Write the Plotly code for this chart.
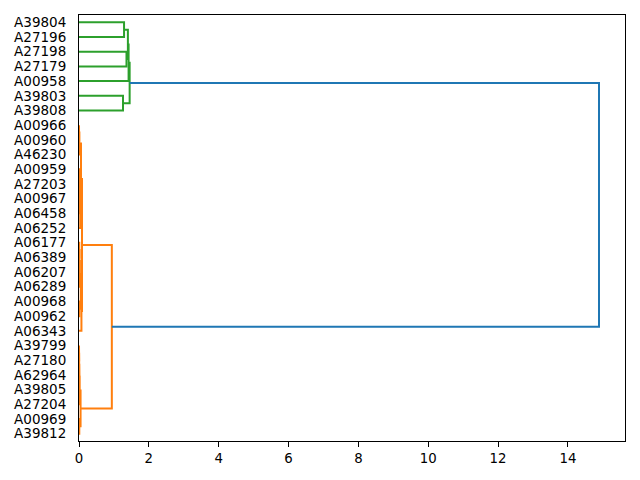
import plotly.graph_objects as go

# Leaf labels, top to bottom as displayed
leaf_labels = ["A39804", "A27196", "A27198", "A27179", "A00958", "A39803", "A39808",
               "A00966", "A00960", "A46230", "A00959", "A27203", "A00967", "A06458",
               "A06252", "A06177", "A06389", "A06207", "A06289", "A00968", "A00962",
               "A06343", "A39799", "A27180", "A62964", "A39805", "A27204", "A00969",
               "A39812"]

# Linkage: (merge name, upper child, lower child, merge distance)
merge_names = ["g1", "g2", "g3", "g4", "g5", "g6",
               "o1", "o2", "o3", "o4", "o5", "o6", "o7", "o8", "o9", "o10", "o11",
               "o12", "o13", "o14", "o15", "o16", "o17", "o18", "o19", "o20", "o21",
               "root"]
merge_left = ["A39804", "A27198", "g1", "g3", "A39803", "g4",
              "A00966", "o1", "A00959", "o3", "o4", "o5", "o2", "A06177", "o8", "o9",
              "A00968", "o10", "o12", "o7", "A39799", "o15", "o16", "o17", "A00969",
              "o18", "o14", "g6"]
merge_right = ["A27196", "A27179", "g2", "A00958", "A39808", "g5",
               "A00960", "A46230", "A27203", "A00967", "A06458", "A06252", "o6",
               "A06389", "A06207", "A06289", "A00962", "o11", "A06343", "o13",
               "A27180", "A62964", "A39805", "A27204", "A39812", "o19", "o20", "o21"]
merge_dist = [1.29, 1.36, 1.40, 1.42, 1.26, 1.45,
              0.002, 0.010, 0.006, 0.015, 0.025, 0.035, 0.057, 0.008, 0.015, 0.022,
              0.012, 0.050, 0.070, 0.086, 0.003, 0.006, 0.010, 0.015, 0.008, 0.045,
              0.94, 14.89]

palette = ["#ff7f0e", "#2ca02c", "#d62728", "#9467bd"]
above_color = "#1f77b4"

# --- layout computation (like scipy's dendrogram) ---
pos = {lab: i for i, lab in enumerate(leaf_labels)}
hgt = {lab: 0.0 for lab in leaf_labels}
leaves_of = {lab: [i] for i, lab in enumerate(leaf_labels)}
children = {}
for name, a, b, d in zip(merge_names, merge_left, merge_right, merge_dist):
    pos[name] = (pos[a] + pos[b]) / 2
    hgt[name] = d
    leaves_of[name] = leaves_of[a] + leaves_of[b]
    children[name] = (a, b)

threshold = 0.7 * max(merge_dist)

cluster_roots = []
for name, a, b, d in zip(merge_names, merge_left, merge_right, merge_dist):
    if d > threshold:
        for c in (a, b):
            if c in children and hgt[c] <= threshold:
                cluster_roots.append(c)
cluster_roots.sort(key=lambda c: -max(leaves_of[c]))
merge_color = {}
def paint(node, col):
    if node in children:
        merge_color[node] = col
        for c in children[node]:
            paint(c, col)
for k, c in enumerate(cluster_roots):
    paint(c, palette[k % len(palette)])
for name in merge_names:
    if name not in merge_color:
        merge_color[name] = above_color

segs = {}
for name, a, b in zip(merge_names, merge_left, merge_right):
    col = merge_color[name]
    xs, ys = segs.setdefault(col, ([], []))
    xs += [hgt[a], hgt[name], hgt[name], hgt[b], None]
    ys += [pos[a], pos[a], pos[b], pos[b], None]

fig = go.Figure()
for col, (xs, ys) in segs.items():
    fig.add_trace(go.Scatter(x=xs, y=ys, mode="lines",
                             line=dict(color=col, width=2),
                             hoverinfo="skip", showlegend=False))

n = len(leaf_labels)
font = dict(family="DejaVu Sans", size=13.3, color="black")
yfont = dict(family="DejaVu Sans", size=13.5, color="black")
fig.update_layout(
    width=640, height=480,
    margin=dict(l=79, r=15, t=15, b=39),
    plot_bgcolor="white", paper_bgcolor="white",
    font=font,
    xaxis=dict(range=[0, max(merge_dist) * 1.05], tickvals=list(range(0, 16, 2)),
               ticks="outside", ticklen=5, tickwidth=1, tickcolor="black",
               showline=True, linecolor="black", linewidth=1, mirror=True,
               showgrid=False, zeroline=False, tickfont=font),
    yaxis=dict(range=[n - 0.5, -0.5], tickvals=list(range(n)), ticktext=leaf_labels,
               ticks="", ticklabelstandoff=9,
               showline=True, linecolor="black", linewidth=1, mirror=True,
               showgrid=False, zeroline=False, tickfont=yfont),
)
fig.write_html("out.html", config={"displayModeBar": False},
               post_script="document.body.style.margin='0';document.body.style.padding='0';")
